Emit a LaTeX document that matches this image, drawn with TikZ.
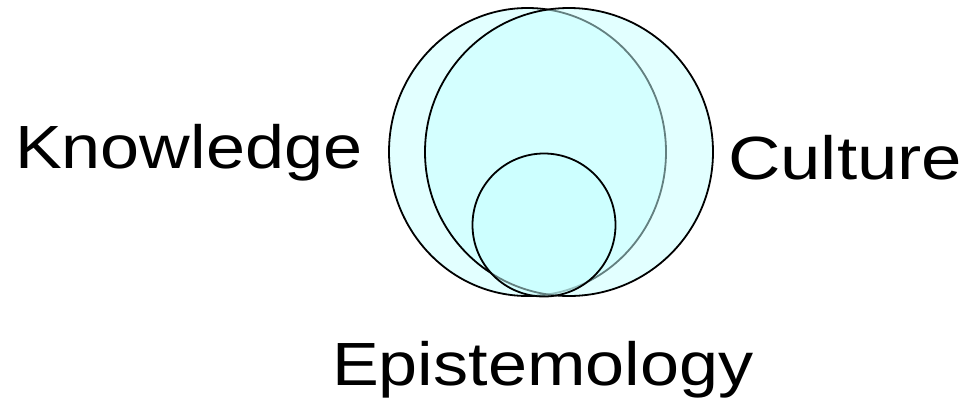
\documentclass[tikz,border=0pt]{standalone}
\usepackage{fontspec}
\setmainfont{Liberation Sans}
\definecolor{setfill}{rgb}{0.78,1,1}
\begin{document}
\begin{tikzpicture}[x=1pt,y=-1pt,
  setshape/.style={draw=black,line width=1.8pt,fill=setfill,fill opacity=0.5},
  setlabel/.style={anchor=base west,inner sep=0pt,font=\fontsize{61}{70}\selectfont}]
\useasboundingbox (0,0) rectangle (969,400);
\fill[white] (0,0) rectangle (969,400);
\path[setshape] (527.5,152) ellipse [x radius=138.5, y radius=144];
\path[setshape] (569,152) ellipse [x radius=144, y radius=144];
\path[setshape] (544,225) circle [radius=71.5];
\node[setlabel] (knowledge) at (15,168) {\scalebox{1.15}[1]{Knowledge}};
\node[setlabel] (culture) at (728,179) {\scalebox{1.19}[1]{Culture}};
\node[setlabel] (epist) at (332,385) {\scalebox{1.15}[1]{Epistemology}};
\end{tikzpicture}
\end{document}
